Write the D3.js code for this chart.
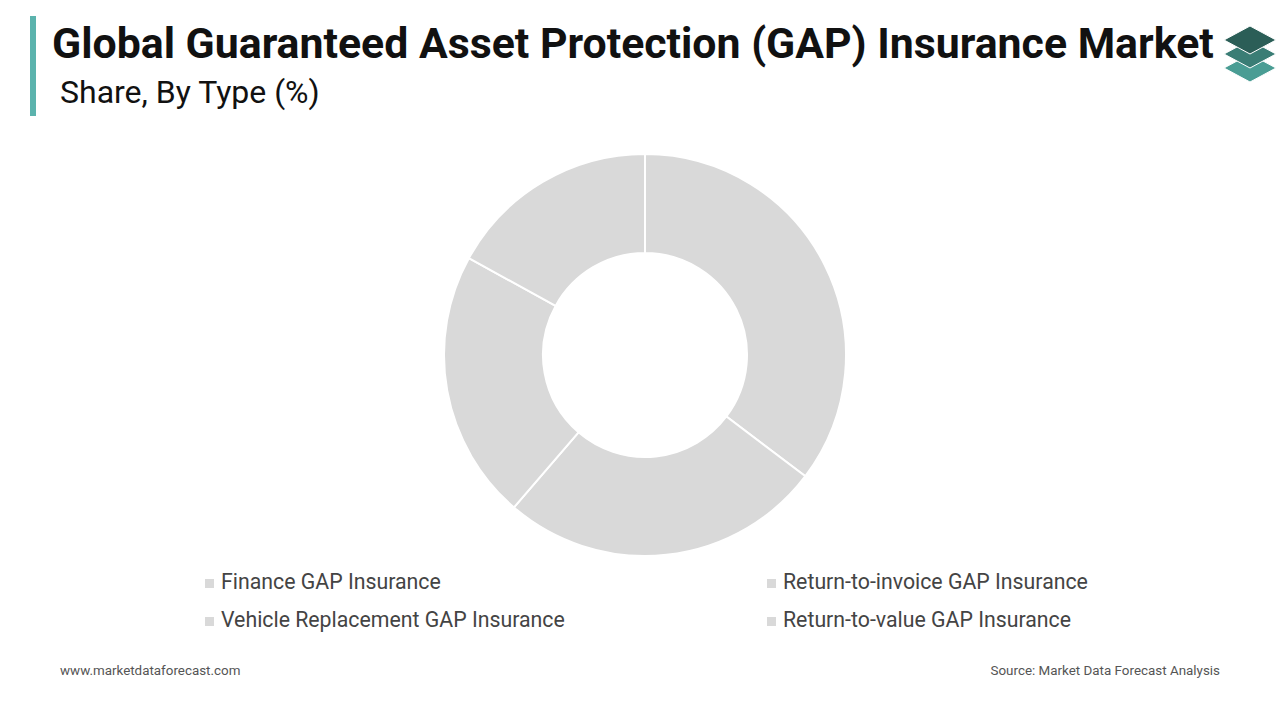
<!DOCTYPE html>
<html><head><meta charset="utf-8">
<script src="https://cdn.jsdelivr.net/npm/d3@7"></script>
<style>body{margin:0;background:#fff;font-family:Roboto,sans-serif}</style>
</head><body>
<svg id="c" width="1280" height="720"></svg>
<script>
const categories = ["Finance GAP Insurance","Return-to-invoice GAP Insurance","Vehicle Replacement GAP Insurance","Return-to-value GAP Insurance"];
const values = [35.3, 26, 21.7, 17];
const svg = d3.select("#c");
svg.append("rect").attr("x",30).attr("y",16).attr("width",6).attr("height",100).attr("fill","#5bb3ad");
svg.append("text").attr("x",52).attr("y",58).attr("font-size",42.8).attr("font-weight","bold").attr("fill","#111").text("Global Guaranteed Asset Protection (GAP) Insurance Market");
svg.append("text").attr("x",60).attr("y",103).attr("font-size",32).attr("fill","#111").text("Share, By Type (%)");
// logo
const lg = svg.append("g").attr("transform","translate(1250,40)");
[[28,"#4a9d94"],[14,"#3a7d75"],[0,"#2b5e57"]].forEach(([dy,c])=>{
  lg.append("path").attr("d",`M0,${dy-14}L26,${dy}L0,${dy+14}L-26,${dy}Z`).attr("fill",c).attr("stroke","#fff").attr("stroke-width",1);
});
const pie = d3.pie().sort(null).value(d=>d);
const arc = d3.arc().innerRadius(102).outerRadius(201);
svg.append("g").attr("transform","translate(645,355)").selectAll("path").data(pie(values)).join("path")
  .attr("d",arc).attr("fill","#d9d9d9").attr("stroke","#fff").attr("stroke-width",2);
const lx=[205,767], ly=[589,627];
categories.forEach((c,i)=>{
  const x=lx[i%2], y=ly[Math.floor(i/2)];
  svg.append("rect").attr("x",x).attr("y",y-10).attr("width",9).attr("height",9).attr("fill","#d9d9d9");
  svg.append("text").attr("x",x+16).attr("y",y).attr("font-size",21.3).attr("fill","#444").text(c);
});
svg.append("text").attr("x",60).attr("y",675).attr("font-size",13.4).attr("fill","#555").text("www.marketdataforecast.com");
svg.append("text").attr("x",1220).attr("y",675).attr("font-size",13.4).attr("fill","#555").attr("text-anchor","end").text("Source: Market Data Forecast Analysis");
</script></body></html>
